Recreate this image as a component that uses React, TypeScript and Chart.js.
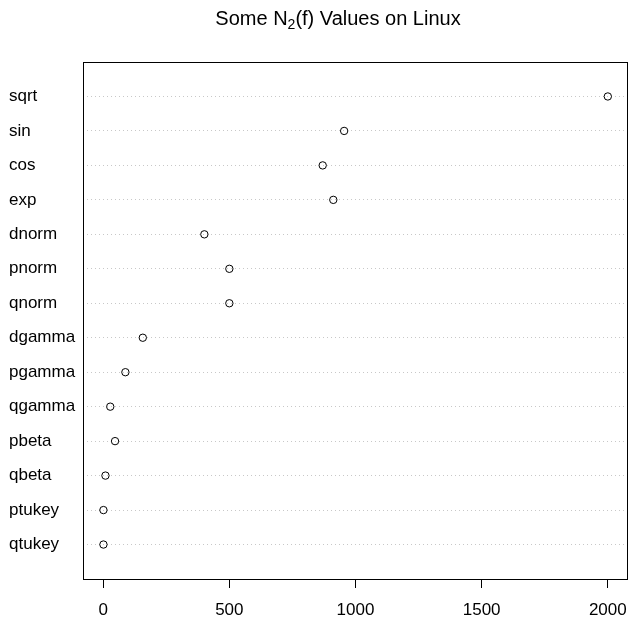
import React, { useEffect, useRef } from "react";
import { Chart, registerables } from "chart.js";

Chart.register(...registerables);

const categories = ["sqrt", "sin", "cos", "exp", "dnorm", "pnorm", "qnorm", "dgamma", "pgamma", "qgamma", "pbeta", "qbeta", "ptukey", "qtukey"];
const values = [2000, 955, 870, 912, 401, 500, 500, 157, 88, 28, 47, 9, 1, 1];
const xTicks = [0, 500, 1000, 1500, 2000];
const titleParts = { before: "Some N", sub: "2", after: "(f) Values on Linux" };

const FONT = "'Liberation Sans', Arial, Helvetica, sans-serif";

const boxPlugin = {
  id: "rbox",
  afterDraw(chart: any) {
    const { ctx, chartArea } = chart;
    const l = Math.round(chartArea.left) + 0.5;
    const t = Math.round(chartArea.top) + 0.5;
    const r = Math.round(chartArea.right) - 0.5;
    const b = Math.round(chartArea.bottom) + 0.5;
    ctx.save();
    ctx.strokeStyle = "#000";
    ctx.lineWidth = 1;
    ctx.setLineDash([]);
    ctx.strokeRect(l, t, r - l, b - t);
    ctx.restore();
  },
};

const titlePlugin = {
  id: "rtitle",
  afterDraw(chart: any) {
    const { ctx } = chart;
    ctx.save();
    ctx.fillStyle = "#000";
    ctx.textBaseline = "alphabetic";
    ctx.textAlign = "left";
    const big = `20px ${FONT}`;
    const small = `14px ${FONT}`;
    ctx.font = big;
    const w1 = ctx.measureText(titleParts.before).width;
    const w3 = ctx.measureText(titleParts.after).width;
    ctx.font = small;
    const w2 = ctx.measureText(titleParts.sub).width;
    const total = w1 + w2 + w3;
    let x = 338 - total / 2;
    const base = 25;
    ctx.font = big;
    ctx.fillText(titleParts.before, x, base);
    x += w1;
    ctx.font = small;
    ctx.fillText(titleParts.sub, x, base + 4);
    x += w2;
    ctx.font = big;
    ctx.fillText(titleParts.after, x, base);
    ctx.restore();
  },
};

export default function App() {
  const ref = useRef<HTMLCanvasElement | null>(null);

  useEffect(() => {
    if (!ref.current) return;
    Chart.defaults.font.family = FONT;
    const n = categories.length;
    const data = categories.map((c, i) => ({ x: values[i], y: n - i }));
    const chart = new Chart(ref.current, {
      type: "scatter",
      data: {
        datasets: [
          {
            data,
            pointStyle: "circle",
            pointRadius: 3.7,
            pointHoverRadius: 3.7,
            pointBorderWidth: 1,
            pointBorderColor: "#000",
            pointBackgroundColor: "rgba(0,0,0,0)",
            showLine: false,
          },
        ],
      },
      options: {
        animation: false,
        responsive: false,
        events: [],
        layout: { autoPadding: false, padding: { top: 62, left: 9, right: 1, bottom: 0 } },
        plugins: { legend: { display: false }, tooltip: { enabled: false }, title: { display: false } },
        scales: {
          x: {
            type: "linear",
            position: "bottom",
            min: -80,
            max: 2080,
            afterBuildTicks: (scale: any) => {
              scale.ticks = xTicks.map((v) => ({ value: v }));
            },
            afterFit: (scale: any) => {
              scale.height = 38;
              scale.paddingLeft = 0;
              scale.paddingRight = 0;
            },
            grid: { drawOnChartArea: false, drawTicks: true, tickLength: 9, tickColor: "#000", tickWidth: 1, color: "#000" },
            border: { display: false },
            ticks: {
              color: "#000",
              font: { size: 17, lineHeight: 2.6 },
              padding: 0,
              maxRotation: 0,
              autoSkip: false,
              callback: (v: any) => String(v),
            },
          },
          y: {
            type: "linear",
            position: "left",
            min: 0,
            max: n + 1,
            afterBuildTicks: (scale: any) => {
              scale.ticks = categories.map((c, i) => ({ value: n - i }));
            },
            afterFit: (scale: any) => {
              scale.width = 74;
              scale.paddingTop = 0;
              scale.paddingBottom = 0;
            },
            grid: { drawOnChartArea: true, drawTicks: false, color: "#c8c8c8", lineWidth: 1 },
            border: { display: false, dash: [1, 3] },
            ticks: {
              color: "#000",
              font: { size: 17 },
              crossAlign: "far",
              autoSkip: false,
              padding: 0,
              callback: (v: any) => categories[n - Number(v)] ?? "",
            },
          },
        },
      },
      plugins: [boxPlugin, titlePlugin],
    } as any);
    return () => chart.destroy();
  }, []);

  return (
    <div style={{ position: "absolute", left: 0, top: 0, width: 629, height: 617, background: "#fff", overflow: "hidden" }}>
      <canvas ref={ref} width={629} height={617} style={{ display: "block" }} />
    </div>
  );
}
